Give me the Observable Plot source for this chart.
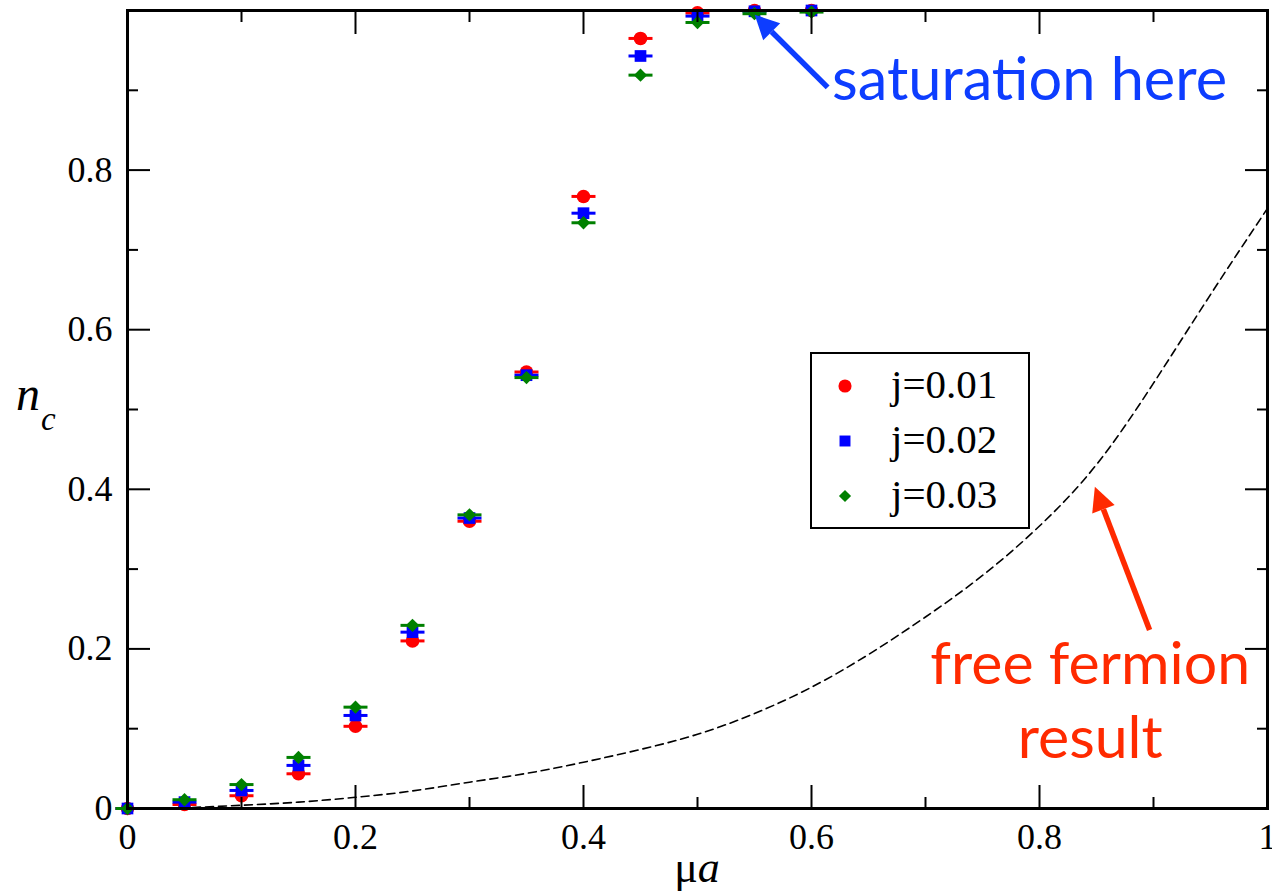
<!DOCTYPE html>
<html><head><meta charset="utf-8">
<script src="https://cdn.jsdelivr.net/npm/d3@7"></script>
<script src="https://cdn.jsdelivr.net/npm/@observablehq/plot@0.6"></script>
<style>body{margin:0;background:#fff}</style>
</head><body><div id="chart"></div>
<script>
// ---- data ----
const muA   = [0, 0.05, 0.1, 0.15, 0.2, 0.25, 0.3, 0.35, 0.4, 0.45, 0.5, 0.55, 0.6];
const nc001 = [0, 0.005, 0.016, 0.0435, 0.103, 0.210, 0.360, 0.547, 0.767, 0.965, 0.997, 1.000, 1.000];
const nc002 = [0, 0.008, 0.0226, 0.054, 0.1166, 0.221, 0.364, 0.543, 0.746, 0.943, 0.993, 0.999, 1.000];
const nc003 = [0, 0.011, 0.030, 0.064, 0.127, 0.2295, 0.368, 0.540, 0.734, 0.919, 0.985, 0.996, 0.998];
const freeMu = [0, 0.05, 0.1, 0.15, 0.2, 0.25, 0.3, 0.35, 0.4, 0.45, 0.5, 0.55, 0.6, 0.65, 0.7, 0.75, 0.8, 0.85, 0.9, 0.95, 1.0];
const freeNc = [0, 0.001, 0.004, 0.008, 0.014, 0.022, 0.033, 0.044, 0.058, 0.074, 0.093, 0.119, 0.152, 0.193, 0.240, 0.292, 0.354, 0.431, 0.533, 0.644, 0.752];
const seriesNames  = ["j=0.01", "j=0.02", "j=0.03"];
const seriesColors = ["#ff0000", "#0000ff", "#008000"];
const seriesSymbols = ["circle", "square", "diamond2"];
const xTicks = [0, 0.2, 0.4, 0.6, 0.8, 1];
const xTickLabels = ["0", "0.2", "0.4", "0.6", "0.8", "1"];
const xMinor = [0.1, 0.3, 0.5, 0.7, 0.9];
const yTicks = [0, 0.2, 0.4, 0.6, 0.8, 1];
const yTickLabels = ["0", "0.2", "0.4", "0.6", "0.8", ""];
const yMinor = [0.1, 0.3, 0.5, 0.7, 0.9];
// annotations (data coordinates)
const annoTexts  = ["saturation here", "free fermion\nresult"];
const annoColors = ["#0d3dff", "#ff2a00"];
const annoX      = [0.618, 0.8445];
const annoY      = [0.888, 0.0627];
const arrowTipX  = [0.5506, 0.849];
const arrowTipY  = [0.994, 0.4025];
const arrowTailX = [0.6146, 0.897];
const arrowTailY = [0.903, 0.223];

const seriesValues = [nc001, nc002, nc003];
const points = seriesValues.map((vals, s) => muA.map((x, i) => ({x, y: vals[i], s})));
const freeLine = freeMu.map((x, i) => ({x, y: freeNc[i]}));
const annos = annoTexts.map((t, i) => ({text: t, x: annoX[i], y: annoY[i], color: annoColors[i]}));

const capSymbol = {draw(ctx) { ctx.moveTo(-12, 0); ctx.lineTo(12, 0); }};
const sizes = [6.8, 6.6, 6.0];

const marks = [
  Plot.line(freeLine, {x: "x", y: "y", stroke: "black", strokeWidth: 1.6, strokeDasharray: "8,5", curve: "natural"})
];
points.forEach((pts, s) => {
  marks.push(Plot.dot(pts, {x: "x", y: "y", symbol: capSymbol, stroke: seriesColors[s], strokeWidth: 3, fill: "none", r: 5}));
  marks.push(Plot.dot(pts, {x: "x", y: "y", symbol: seriesSymbols[s], fill: seriesColors[s], stroke: "none", r: sizes[s]}));
});
const fmtX = d => xTickLabels[xTicks.indexOf(d)];
const fmtY = d => yTickLabels[yTicks.indexOf(d)];
const blank = () => "";
const annoFont = "Lato, 'Open Sans', sans-serif";
marks.push(
  Plot.axisX(xTicks, {anchor: "bottom", tickSize: -23, strokeWidth: 2, tickFormat: blank, label: null}),
  Plot.axisX(xMinor, {anchor: "bottom", tickSize: -11, strokeWidth: 2, tickFormat: blank, label: null}),
  Plot.axisX(xTicks, {anchor: "top", tickSize: -23, strokeWidth: 2, tickFormat: blank, label: null}),
  Plot.axisX(xMinor, {anchor: "top", tickSize: -11, strokeWidth: 2, tickFormat: blank, label: null}),
  Plot.axisY(yTicks, {anchor: "left", tickSize: -23, strokeWidth: 2, tickFormat: blank, label: null}),
  Plot.axisY(yMinor, {anchor: "left", tickSize: -11, strokeWidth: 2, tickFormat: blank, label: null}),
  Plot.axisY(yTicks, {anchor: "right", tickSize: -23, strokeWidth: 2, tickFormat: blank, label: null}),
  Plot.axisY(yMinor, {anchor: "right", tickSize: -11, strokeWidth: 2, tickFormat: blank, label: null}),
  Plot.axisX(xTicks, {anchor: "bottom", tickSize: 0, tickPadding: 15, tickFormat: fmtX, label: null}),
  Plot.axisY(yTicks, {anchor: "left", tickSize: 0, tickPadding: 15, tickFormat: fmtY, label: null}),
  Plot.text(annos.slice(0, 1), {x: "x", y: "y", text: "text", fill: "color", textAnchor: "start", lineAnchor: "bottom",
    fontSize: 59.5, fontFamily: annoFont}),
  Plot.text(annos.slice(1), {x: "x", y: "y", text: "text", fill: "color", textAnchor: "middle", lineAnchor: "bottom",
    fontSize: 59, lineHeight: 1.27, fontFamily: annoFont}),
  Plot.frame({stroke: "black", strokeWidth: 3})
);

const chart = Plot.plot({
  width: 1272, height: 896,
  marginLeft: 127, marginRight: 5, marginTop: 10, marginBottom: 88,
  x: {domain: [0, 1], axis: null},
  y: {domain: [0, 1], axis: null},
  style: {fontFamily: "'Liberation Serif', 'Times New Roman', serif", fontSize: "36px", color: "black", background: "white"},
  marks
});
document.getElementById("chart").appendChild(chart);

// arrows, legend and axis labels via the chart's own scales
const sx = chart.scale("x"), sy = chart.scale("y");
const svg = d3.select(chart);
arrowTipX.forEach((_, i) => {
  const tx = sx.apply(arrowTipX[i]), ty = sy.apply(arrowTipY[i]);
  const bx = sx.apply(arrowTailX[i]), by = sy.apply(arrowTailY[i]);
  const L = Math.hypot(bx - tx, by - ty), ux = (bx - tx) / L, uy = (by - ty) / L;
  const hl = 24, hw = 12;
  const mx = tx + ux * hl, my = ty + uy * hl;
  svg.append("line").attr("x1", bx).attr("y1", by).attr("x2", mx).attr("y2", my)
    .attr("stroke", annoColors[i]).attr("stroke-width", 5.5);
  svg.append("polygon").attr("fill", annoColors[i])
    .attr("points", [[tx, ty], [mx - uy * hw, my + ux * hw], [mx + uy * hw, my - ux * hw]].map(p => p.join(",")).join(" "));
});

// legend
const lg = svg.append("g").attr("text-anchor", "start");
lg.append("rect").attr("x", 811).attr("y", 353).attr("width", 218).attr("height", 175)
  .attr("fill", "white").attr("stroke", "black").attr("stroke-width", 2);
const legSym = [d3.symbolCircle, d3.symbolSquare, d3.symbolDiamond2];
const legSize = [135, 120, 95];
seriesNames.forEach((name, i) => {
  const cy = 386 + i * 55;
  lg.append("path").attr("d", d3.symbol(legSym[i], legSize[i])()).attr("transform", `translate(845,${cy})`).attr("fill", seriesColors[i]);
  lg.append("text").attr("x", 891).attr("y", cy + 12).attr("font-size", 41).attr("fill", "black").text(name);
});

// axis labels
const yl = svg.append("text").attr("x", 16).attr("y", 410).attr("text-anchor", "start").attr("font-style", "italic");
yl.append("tspan").attr("font-size", 48).text("n");
yl.append("tspan").attr("font-size", 33).attr("dx", 1).attr("dy", 20).text("c");
const xl = svg.append("text").attr("x", sx.apply(0.5)).attr("y", 882).attr("text-anchor", "middle").attr("font-size", 44);
xl.append("tspan").text("μ");
xl.append("tspan").attr("font-style", "italic").text("a");
</script>
</body></html>
